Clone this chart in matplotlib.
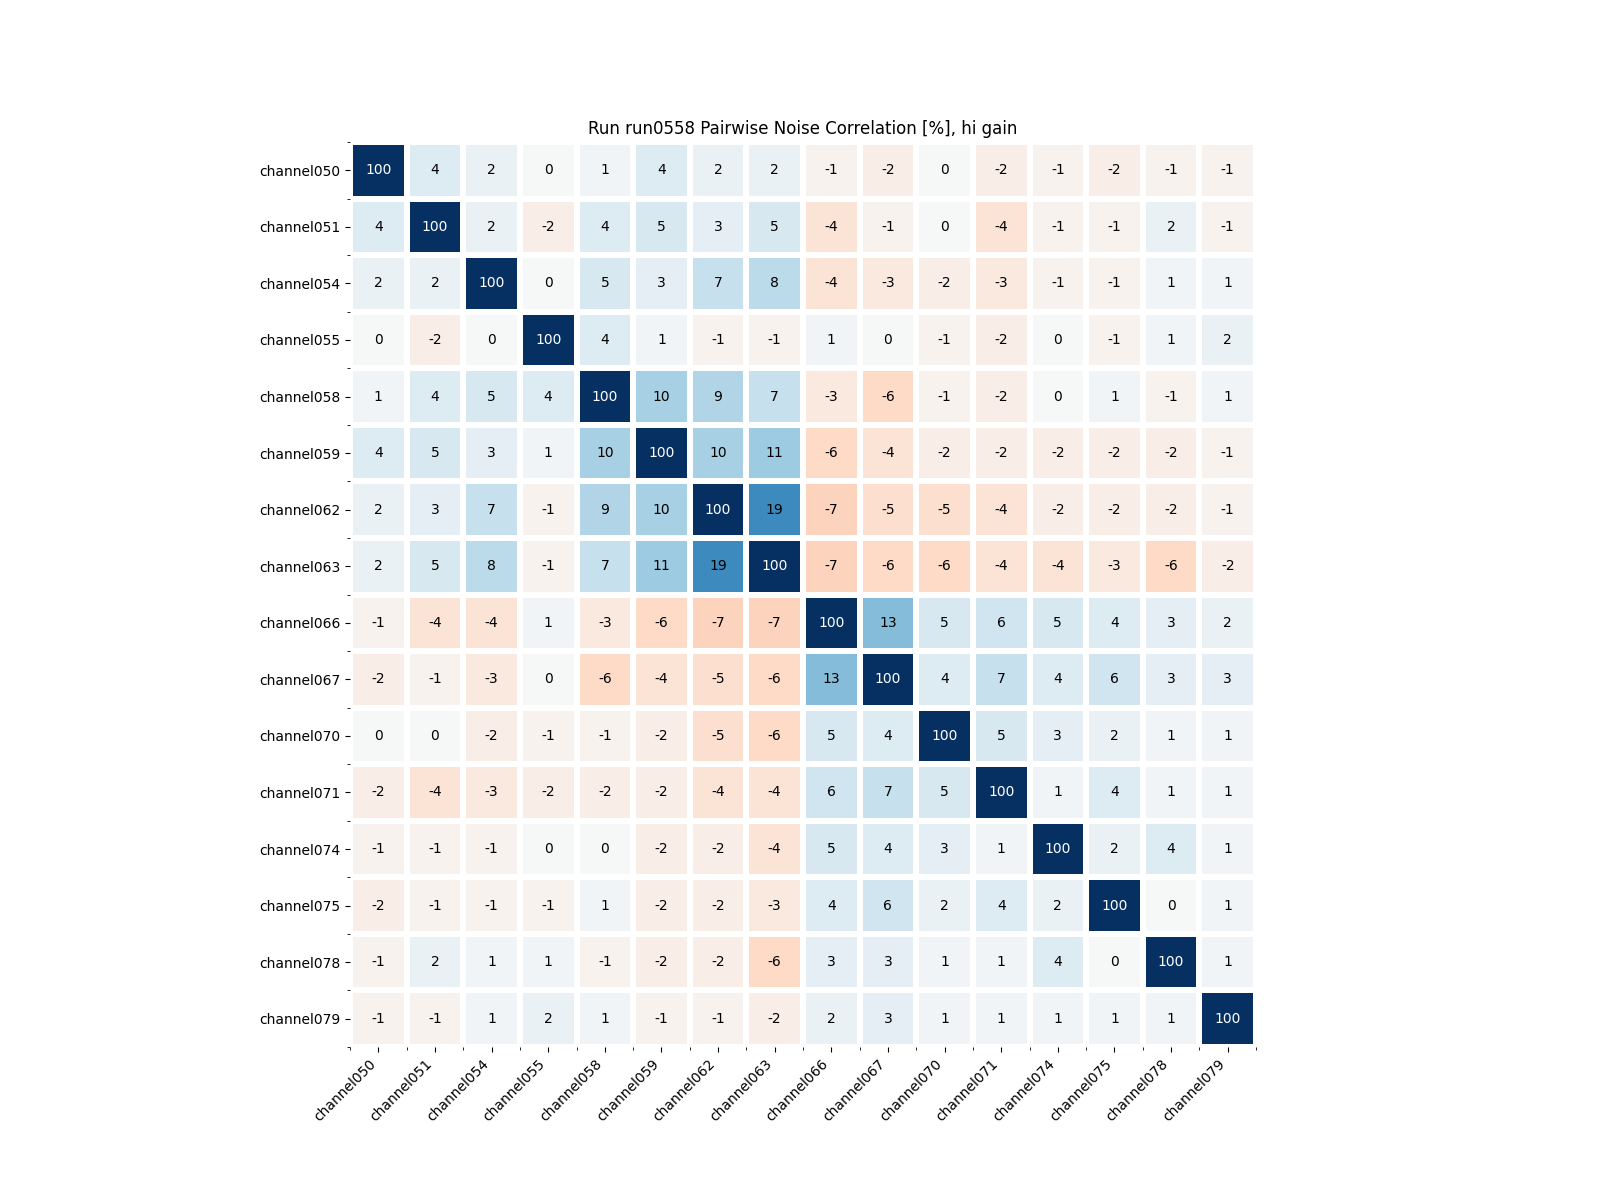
import numpy as np
import matplotlib
matplotlib.use("Agg")
import matplotlib.pyplot as plt

channels = ["channel050", "channel051", "channel054", "channel055", "channel058",
            "channel059", "channel062", "channel063", "channel066", "channel067",
            "channel070", "channel071", "channel074", "channel075", "channel078",
            "channel079"]

corr = [
    [100, 4, 2, 0, 1, 4, 2, 2, -1, -2, 0, -2, -1, -2, -1, -1],
    [4, 100, 2, -2, 4, 5, 3, 5, -4, -1, 0, -4, -1, -1, 2, -1],
    [2, 2, 100, 0, 5, 3, 7, 8, -4, -3, -2, -3, -1, -1, 1, 1],
    [0, -2, 0, 100, 4, 1, -1, -1, 1, 0, -1, -2, 0, -1, 1, 2],
    [1, 4, 5, 4, 100, 10, 9, 7, -3, -6, -1, -2, 0, 1, -1, 1],
    [4, 5, 3, 1, 10, 100, 10, 11, -6, -4, -2, -2, -2, -2, -2, -1],
    [2, 3, 7, -1, 9, 10, 100, 19, -7, -5, -5, -4, -2, -2, -2, -1],
    [2, 5, 8, -1, 7, 11, 19, 100, -7, -6, -6, -4, -4, -3, -6, -2],
    [-1, -4, -4, 1, -3, -6, -7, -7, 100, 13, 5, 6, 5, 4, 3, 2],
    [-2, -1, -3, 0, -6, -4, -5, -6, 13, 100, 4, 7, 4, 6, 3, 3],
    [0, 0, -2, -1, -1, -2, -5, -6, 5, 4, 100, 5, 3, 2, 1, 1],
    [-2, -4, -3, -2, -2, -2, -4, -4, 6, 7, 5, 100, 1, 4, 1, 1],
    [-1, -1, -1, 0, 0, -2, -2, -4, 5, 4, 3, 1, 100, 2, 4, 1],
    [-2, -1, -1, -1, 1, -2, -2, -3, 4, 6, 2, 4, 2, 100, 0, 1],
    [-1, 2, 1, 1, -1, -2, -2, -6, 3, 3, 1, 1, 4, 0, 100, 1],
    [-1, -1, 1, 2, 1, -1, -1, -2, 2, 3, 1, 1, 1, 1, 1, 100],
]

title = "Run run0558 Pairwise Noise Correlation [%], hi gain"

data = np.array(corr, dtype=float)
n = len(channels)

fig = plt.figure(figsize=(16, 12), dpi=100)
ax = fig.add_axes([350 / 1600, 1 - 1047 / 1200, 906 / 1600, 905 / 1200])

ax.pcolormesh(np.arange(n + 1), np.arange(n + 1), data, cmap="RdBu",
              vmin=-30, vmax=30, edgecolors="white", linewidth=3)

for i in range(n):
    for j in range(n):
        v = corr[i][j]
        ax.text(j + 0.5, i + 0.5, f"{v:d}", ha="center", va="center",
                fontsize=10, color="white" if v > 50 else "black")

ax.set_xlim(0, n)
ax.set_ylim(n, 0)
ax.set_xticks(np.arange(n) + 0.5)
ax.set_yticks(np.arange(n) + 0.5)
ax.set_xticks(np.arange(n + 1), minor=True)
ax.set_yticks(np.arange(n + 1), minor=True)
ax.set_xticklabels(channels, rotation=45, ha="right")
ax.set_yticklabels(channels)
for s in ax.spines.values():
    s.set_visible(False)
ax.set_title(title, fontsize=12)

fig.savefig("out.png", dpi=100)
